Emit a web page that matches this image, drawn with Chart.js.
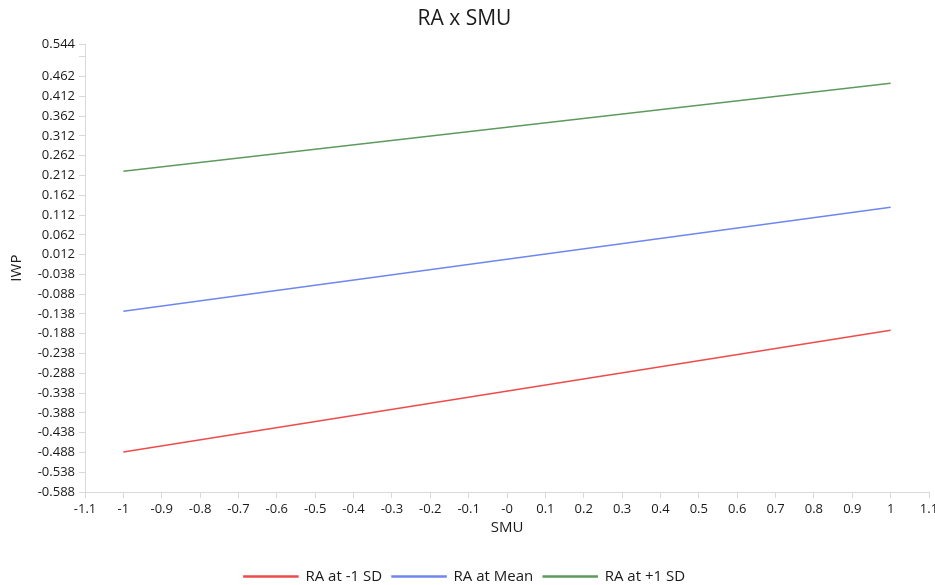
<!DOCTYPE html>
<html lang="en">
<head>
    <meta charset="UTF-8">
    <title>RA x SMU</title>
    <script src="https://cdn.jsdelivr.net/npm/chart.js"></script>
    <style>
        body { margin: 0; padding: 0; background: #fff; }
        #wrap { width: 935px; height: 585px; }
    </style>
</head>
<body>
    <div id="wrap"><canvas id="chart"></canvas></div>
    <script>
        // SMU values at which the simple slopes are evaluated
        const smuPoints = [-1, 1];
        const raLow = [-0.487, -0.179];
        const raMean = [-0.131, 0.132];
        const raHigh = [0.223, 0.445];

        const seriesNames = ['RA at -1 SD', 'RA at Mean', 'RA at +1 SD'];

        const xTicks = [-1.1, -1, -0.9, -0.8, -0.7, -0.6, -0.5, -0.4, -0.3, -0.2, -0.1, 0,
                        0.1, 0.2, 0.3, 0.4, 0.5, 0.6, 0.7, 0.8, 0.9, 1, 1.1];
        const xTickLabels = ['-1.1', '-1', '-0.9', '-0.8', '-0.7', '-0.6', '-0.5', '-0.4', '-0.3', '-0.2', '-0.1', '-0',
                             '0.1', '0.2', '0.3', '0.4', '0.5', '0.6', '0.7', '0.8', '0.9', '1', '1.1'];
        const yTicks = [-0.588, -0.538, -0.488, -0.438, -0.388, -0.338, -0.288, -0.238, -0.188, -0.138, -0.088,
                        -0.038, 0.012, 0.062, 0.112, 0.162, 0.212, 0.262, 0.312, 0.362, 0.412, 0.462, 0.512, 0.544];
        const yTickLabels = ['-0.588', '-0.538', '-0.488', '-0.438', '-0.388', '-0.338', '-0.288', '-0.238', '-0.188', '-0.138', '-0.088',
                             '-0.038', '0.012', '0.062', '0.112', '0.162', '0.212', '0.262', '0.312', '0.362', '0.412', '0.462', '', '0.544'];

        const colors = ['#ee4b4b', '#6e87ee', '#5e9a5e'];
        const fontFamily = '"Open Sans", "Noto Sans", sans-serif';
        const axisGray = '#d9d9d9';
        const textColor = '#1a1a1a';

        const toPoints = vals => smuPoints.map((x, i) => ({ x: x, y: vals[i] }));

        const datasets = [raLow, raMean, raHigh].map((vals, i) => ({
            label: seriesNames[i],
            data: toPoints(vals),
            borderColor: colors[i],
            backgroundColor: colors[i],
            borderWidth: 1.5,
            pointRadius: 0,
            tension: 0
        }));

        new Chart(document.getElementById('chart'), {
            type: 'line',
            data: { datasets: datasets },
            options: {
                responsive: true,
                maintainAspectRatio: false,
                animation: false,
                layout: { padding: { left: 0, right: 6, top: 0, bottom: -9 } },
                scales: {
                    x: {
                        type: 'linear',
                        min: -1.1,
                        max: 1.1,
                        afterBuildTicks: axis => { axis.ticks = xTicks.map(v => ({ value: v })); },
                        afterFit: axis => { axis.height = 67; axis.paddingRight = 0; axis.paddingLeft = 0; },
                        ticks: {
                            autoSkip: false,
                            maxRotation: 0,
                            padding: 3,
                            color: textColor,
                            font: { family: fontFamily, size: 13 },
                            callback: (v, i) => xTickLabels[i]
                        },
                        grid: { drawOnChartArea: false, drawTicks: true, tickLength: 6, color: axisGray },
                        border: { color: axisGray },
                        title: { display: true, text: 'SMU', color: textColor, font: { family: fontFamily, size: 15 }, padding: { top: 2, bottom: 22 } }
                    },
                    y: {
                        type: 'linear',
                        min: -0.588,
                        max: 0.544,
                        afterBuildTicks: axis => { axis.ticks = yTicks.map(v => ({ value: v })); },
                        afterFit: axis => { axis.width = 85; axis.paddingTop = 0; axis.paddingBottom = 0; },
                        ticks: {
                            autoSkip: false,
                            padding: 4,
                            color: textColor,
                            font: { family: fontFamily, size: 13 },
                            callback: (v, i) => yTickLabels[i]
                        },
                        grid: { drawOnChartArea: false, drawTicks: true, tickLength: 6, color: axisGray },
                        border: { color: axisGray },
                        title: { display: true, text: 'IWP', color: textColor, font: { family: fontFamily, size: 15 }, padding: { top: 8, bottom: 0 } }
                    }
                },
                plugins: {
                    title: {
                        display: true,
                        text: 'RA x SMU',
                        color: textColor,
                        font: { family: fontFamily, size: 21, weight: 'normal' },
                        padding: { top: 6, bottom: 13 }
                    },
                    legend: {
                        position: 'bottom',
                        labels: {
                            color: textColor,
                            font: { family: fontFamily, size: 15 },
                            boxWidth: 54,
                            boxHeight: 1,
                            padding: 10
                        }
                    },
                    tooltip: { enabled: false }
                }
            }
        });
    </script>
</body>
</html>
